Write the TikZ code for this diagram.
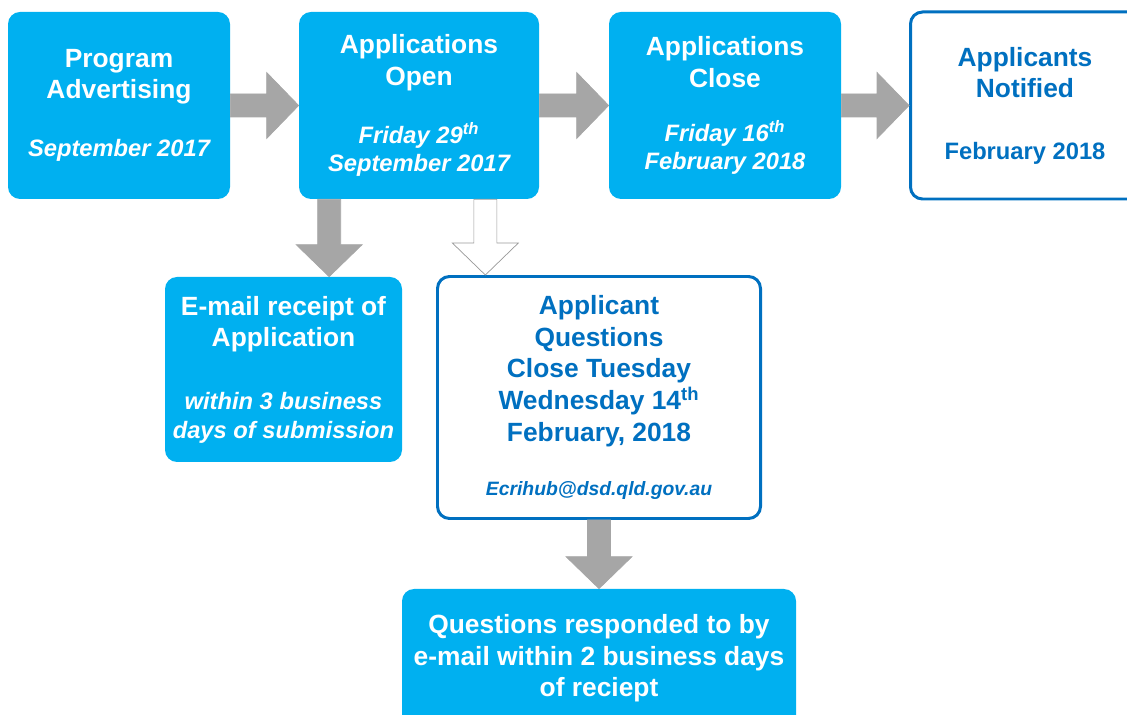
\documentclass[tikz,border=0pt]{standalone}
\usepackage{fontspec}
\setmainfont{Liberation Sans}
\usetikzlibrary{calc}
\definecolor{boxcyan}{HTML}{00B0F0}
\definecolor{boxblue}{HTML}{0070C0}
\definecolor{arrowgray}{HTML}{A6A6A6}
\newcommand{\datefont}{\fontsize{13.5}{16}\selectfont}
\newcommand{\mailfont}{\fontsize{11}{13}\selectfont\itshape}

\tikzset{
	stage/.style={rectangle, rounded corners=0.24cm, inner sep=0pt, align=center,
		font=\fontsize{15}{18}\selectfont\bfseries},
	filled/.style={stage, fill=boxcyan, text=white},
	outlined/.style={stage, draw=boxblue, line width=1.7pt, fill=white, text=boxblue},
	% fat block arrow from start to target
	blockarrow/.style={fill=arrowgray, draw=arrowgray, line width=0.4pt, to path={
		($(\tikztostart)!0.23cm!90:(\tikztotarget)$)
		-- ($(\tikztotarget)!0.64cm!(\tikztostart)!0.23cm!-90:(\tikztostart)$)
		-- ($(\tikztotarget)!0.64cm!(\tikztostart)!0.66cm!-90:(\tikztostart)$)
		-- (\tikztotarget)
		-- ($(\tikztotarget)!0.64cm!(\tikztostart)!0.66cm!90:(\tikztostart)$)
		-- ($(\tikztotarget)!0.64cm!(\tikztostart)!0.23cm!90:(\tikztostart)$)
		-- ($(\tikztostart)!0.23cm!-90:(\tikztotarget)$) -- cycle}},
	hollowarrow/.style={blockarrow, fill=white, draw=gray!80},
}

\begin{document}
\begin{tikzpicture}
	\useasboundingbox (0,0) rectangle (22.54,-14.3);

	% top row
	\node[filled, minimum width=4.44cm, minimum height=3.74cm] (prog) at (2.38,-2.11)
		{Program\\Advertising\\[15pt]{\datefont\itshape September 2017}};
	\node[filled, minimum width=4.8cm, minimum height=3.74cm] (open) at (8.38,-2.11)
		{Applications\\Open\\[15pt]{\datefont\itshape Friday 29\textsuperscript{th}}\\[-2pt]{\datefont\itshape September 2017}};
	\node[filled, minimum width=4.64cm, minimum height=3.74cm] (close) at (14.5,-2.11)
		{Applications\\Close\\[13pt]{\datefont\itshape Friday 16\textsuperscript{th}}\\[-2pt]{\datefont\itshape February 2018}};
	\node[outlined, minimum width=4.58cm, minimum height=3.74cm] (notified) at (20.5,-2.11)
		{Applicants\\Notified\\[17pt]{\datefont February 2018}};

	% second row
	\node[filled, minimum width=4.74cm, minimum height=3.7cm] (email) at (5.67,-7.39)
		{E-mail receipt of\\Application\\[18pt]{\datefont\itshape within 3 business}\\[-2pt]{\datefont\itshape days of submission}};
	\node[outlined, minimum width=6.46cm, minimum height=4.84cm] (quest) at (11.98,-7.95)
		{Applicant\\Questions\\Close Tuesday\\Wednesday 14\textsuperscript{th}\\February, 2018\\[13pt]{\mailfont Ecrihub@dsd.qld.gov.au}};

	% bottom
	\node[filled, minimum width=7.88cm, minimum height=2.78cm] (reply) at (11.98,-13.17)
		{Questions responded to by\\e-mail within 2 business days\\of reciept};

	% arrows
	\draw[blockarrow] (prog.east) to (open.west);
	\draw[blockarrow] (open.east) to (close.west);
	\draw[blockarrow] (close.east) to (notified.west);

	\coordinate (rcpt) at ($(open.south west)+(0.61,0)$);
	\draw[blockarrow] (rcpt) to (rcpt |- email.north);
	\coordinate (ask) at ($(open.south east)+(-1.08,0)$);
	\draw[hollowarrow] (ask) to (ask |- quest.north);
	\draw[blockarrow] (quest.south) to (reply.north);
\end{tikzpicture}
\end{document}
